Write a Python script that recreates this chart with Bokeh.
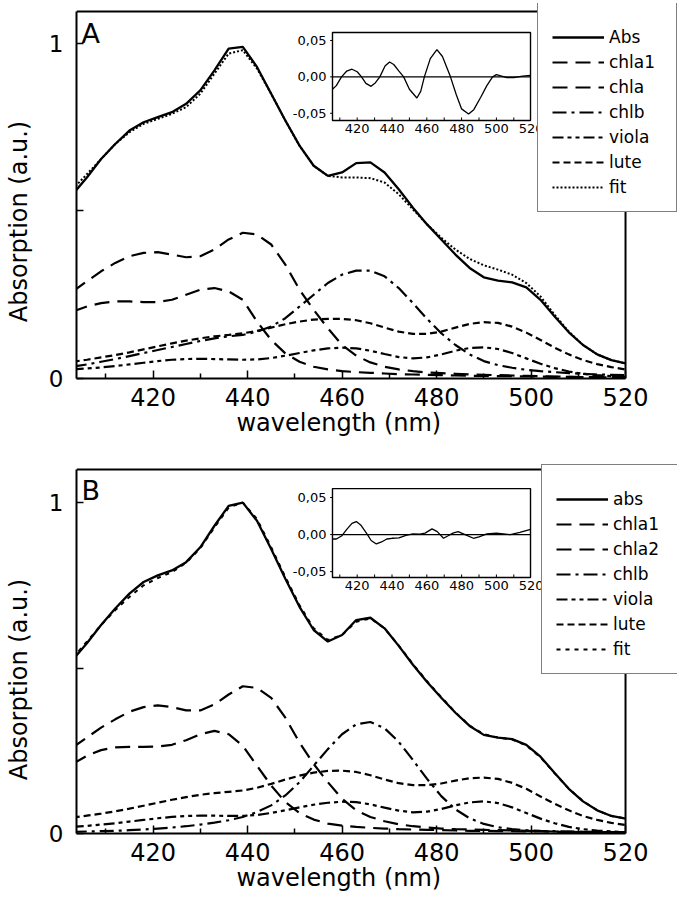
from bokeh.plotting import figure
from bokeh.models import Range1d, FixedTicker, Legend, LegendItem, NumeralTickFormatter, Span
from bokeh.layouts import column
from bokeh.embed import file_html
from bokeh.resources import INLINE
from bokeh.core.properties import value

# ---------------- data ----------------
WL = [403, 406, 409, 412, 415, 418, 421, 424, 427, 430, 433, 436, 439, 442, 445, 448,
      451, 454, 457, 460, 463, 466, 469, 472, 475, 478, 481, 484, 487, 490, 493, 496,
      499, 502, 505, 508, 511, 514, 517, 520]

# Panel A
A_abs = [0.55, 0.60, 0.655, 0.70, 0.74, 0.765, 0.78, 0.795, 0.82, 0.86, 0.92, 0.985,
         0.99, 0.93, 0.85, 0.77, 0.695, 0.635, 0.605, 0.615, 0.643, 0.645, 0.615, 0.565,
         0.51, 0.46, 0.415, 0.37, 0.33, 0.302, 0.292, 0.287, 0.272, 0.235, 0.185, 0.138,
         0.10, 0.072, 0.055, 0.045]
A_chla1 = [0.20, 0.215, 0.225, 0.23, 0.23, 0.228, 0.228, 0.235, 0.25, 0.265, 0.27, 0.26,
           0.235, 0.17, 0.115, 0.075, 0.05, 0.035, 0.027, 0.022, 0.019, 0.017, 0.015, 0.013,
           0.012, 0.011, 0.010, 0.009, 0.008, 0.008, 0.007, 0.007, 0.006, 0.006, 0.005, 0.005,
           0.004, 0.004, 0.004, 0.004]
A_chla = [0.26, 0.29, 0.32, 0.345, 0.365, 0.375, 0.377, 0.37, 0.362, 0.365, 0.385, 0.415,
          0.435, 0.43, 0.40, 0.34, 0.265, 0.205, 0.15, 0.10, 0.068, 0.048, 0.035, 0.027,
          0.022, 0.018, 0.016, 0.014, 0.012, 0.011, 0.010, 0.009, 0.008, 0.007, 0.006, 0.005,
          0.004, 0.004, 0.003, 0.003]
A_chlb = [0.035, 0.042, 0.05, 0.058, 0.067, 0.076, 0.085, 0.094, 0.103, 0.112, 0.12, 0.126,
          0.13, 0.14, 0.155, 0.18, 0.215, 0.25, 0.285, 0.31, 0.322, 0.322, 0.305, 0.27,
          0.225, 0.178, 0.135, 0.10, 0.072, 0.052, 0.04, 0.032, 0.026, 0.022, 0.019, 0.016,
          0.014, 0.012, 0.011, 0.010]
A_viola = [0.027, 0.03, 0.033, 0.037, 0.042, 0.047, 0.052, 0.056, 0.058, 0.059, 0.058, 0.057,
           0.056, 0.057, 0.061, 0.068, 0.076, 0.084, 0.09, 0.092, 0.09, 0.083, 0.073, 0.064,
           0.06, 0.063, 0.072, 0.083, 0.091, 0.093, 0.088, 0.076, 0.06, 0.044, 0.031, 0.021,
           0.014, 0.01, 0.007, 0.005]
A_lute = [0.05, 0.056, 0.063, 0.07, 0.078, 0.087, 0.096, 0.105, 0.113, 0.12, 0.126, 0.13,
          0.135, 0.142, 0.152, 0.162, 0.17, 0.176, 0.178, 0.178, 0.174, 0.165, 0.152, 0.14,
          0.133, 0.133, 0.14, 0.152, 0.163, 0.168, 0.166, 0.155, 0.137, 0.115, 0.092, 0.072,
          0.055, 0.043, 0.034, 0.027]
A_fit = [0.565, 0.61, 0.655, 0.70, 0.735, 0.76, 0.775, 0.79, 0.81, 0.85, 0.91, 0.97,
         0.98, 0.925, 0.85, 0.77, 0.695, 0.635, 0.605, 0.60, 0.60, 0.598, 0.585, 0.55,
         0.505, 0.46, 0.42, 0.385, 0.357, 0.338, 0.325, 0.31, 0.285, 0.245, 0.19, 0.14,
         0.10, 0.072, 0.055, 0.045]

# Panel B
B_abs = [0.525, 0.575, 0.63, 0.68, 0.725, 0.76, 0.78, 0.795, 0.82, 0.865, 0.93, 0.99,
         1.0, 0.945, 0.86, 0.77, 0.685, 0.615, 0.58, 0.60, 0.645, 0.652, 0.62, 0.567,
         0.51, 0.458, 0.41, 0.365, 0.325, 0.298, 0.29, 0.285, 0.268, 0.232, 0.183, 0.135,
         0.097, 0.07, 0.053, 0.045]
B_chla1 = [0.21, 0.235, 0.252, 0.26, 0.262, 0.262, 0.263, 0.268, 0.282, 0.30, 0.31, 0.30,
           0.265, 0.205, 0.145, 0.095, 0.062, 0.042, 0.03, 0.024, 0.02, 0.017, 0.015, 0.013,
           0.012, 0.011, 0.010, 0.009, 0.008, 0.008, 0.007, 0.007, 0.006, 0.006, 0.005, 0.005,
           0.005, 0.004, 0.004, 0.004]
B_chla2 = [0.26, 0.29, 0.32, 0.345, 0.368, 0.382, 0.387, 0.382, 0.372, 0.372, 0.39, 0.42,
           0.445, 0.44, 0.41, 0.35, 0.275, 0.21, 0.155, 0.105, 0.07, 0.05, 0.037, 0.028,
           0.022, 0.018, 0.015, 0.013, 0.012, 0.011, 0.010, 0.009, 0.008, 0.007, 0.006, 0.005,
           0.004, 0.004, 0.003, 0.003]
B_chlb = [0.005, 0.006, 0.007, 0.008, 0.010, 0.012, 0.015, 0.018, 0.022, 0.027, 0.033, 0.04,
          0.05, 0.065, 0.085, 0.115, 0.155, 0.205, 0.255, 0.30, 0.33, 0.337, 0.318, 0.277,
          0.222, 0.165, 0.113, 0.073, 0.046, 0.029, 0.019, 0.013, 0.010, 0.008, 0.007, 0.006,
          0.005, 0.005, 0.004, 0.004]
B_viola = [0.02, 0.023, 0.027, 0.031, 0.036, 0.041, 0.046, 0.05, 0.053, 0.054, 0.054, 0.053,
           0.053, 0.056, 0.062, 0.07, 0.079, 0.087, 0.093, 0.096, 0.095, 0.088, 0.078, 0.069,
           0.064, 0.066, 0.074, 0.085, 0.094, 0.097, 0.092, 0.079, 0.062, 0.045, 0.031, 0.02,
           0.013, 0.009, 0.006, 0.004]
B_lute = [0.048, 0.054, 0.06, 0.067, 0.075, 0.084, 0.093, 0.102, 0.11, 0.117, 0.122, 0.126,
          0.13, 0.138, 0.15, 0.163, 0.175, 0.184, 0.189, 0.19, 0.186, 0.176, 0.163, 0.152,
          0.146, 0.146, 0.151, 0.16, 0.167, 0.169, 0.165, 0.153, 0.135, 0.112, 0.09, 0.07,
          0.053, 0.041, 0.032, 0.026]
B_fit = [0.53, 0.58, 0.63, 0.675, 0.715, 0.75, 0.772, 0.79, 0.818, 0.862, 0.925, 0.985,
         1.0, 0.95, 0.865, 0.775, 0.69, 0.62, 0.585, 0.60, 0.64, 0.65, 0.62, 0.568,
         0.512, 0.46, 0.412, 0.366, 0.326, 0.30, 0.29, 0.284, 0.266, 0.23, 0.182, 0.135,
         0.098, 0.07, 0.053, 0.045]

# Insets (residuals)
INSA_X = [405.8, 408, 411, 414, 417, 420, 422.5, 425, 428, 430.5, 433, 436, 438.6, 441, 444,
          446.7, 450, 454.3, 456.5, 458.6, 462, 465.8, 469, 473.6, 477, 480, 484, 487, 491,
          494.5, 497.8, 500, 503, 506, 510, 515, 519.6]
INSA_Y = [-0.017, -0.012, 0.0, 0.008, 0.0105, 0.007, 0.0, -0.009, -0.013, -0.008, 0.0, 0.015,
          0.0205, 0.017, 0.008, 0.0, -0.017, -0.029, -0.02, 0.0, 0.025, 0.0375, 0.028, 0.0,
          -0.025, -0.044, -0.051, -0.045, -0.028, -0.012, 0.0, 0.003, 0.001, -0.001, -0.001,
          0.001, 0.002]
INSB_X = [405.8, 408, 411, 414, 417, 419.5, 422, 425.9, 428, 431, 434, 437, 440, 444, 448,
          452, 456, 459, 463, 466, 469.6, 472, 475, 478, 482, 486.8, 490, 494.5, 500, 504,
          508, 513.5, 519.6]
INSB_Y = [-0.006, -0.006, -0.002, 0.007, 0.015, 0.0175, 0.013, 0.0, -0.008, -0.0127, -0.01,
          -0.006, -0.005, -0.0045, -0.001, 0.001, 0.0005, 0.002, 0.0076, 0.004, -0.005, -0.002,
          0.002, 0.004, 0.0, -0.005, -0.003, 0.001, 0.002, 0.001, 0.0, 0.003, 0.007]

X_TICKS = [420, 440, 460, 480, 500, 520]
X_MINOR = [410, 430, 450, 470, 490, 510]
Y_TICKS = [0, 1]
Y_MINOR = [0.5]
INS_X_TICKS = [420, 440, 460, 480, 500, 520]
INS_X_MINOR = [410, 420, 430, 440, 450, 460, 470, 480, 490, 500, 510]
INS_Y_TICKS = [0.05, 0.0, -0.05]
INS_Y_LABELS = ["0,05", "0,00", "-0,05"]

LABELS_A = ["Abs", "chla1", "chla", "chlb", "viola", "lute", "fit"]
LABELS_B = ["abs", "chla1", "chla2", "chlb", "viola", "lute", "fit"]

# ---------------- styling / layout ----------------
FONT = "DejaVu Sans"
X_LO, X_HI, X_VIEW = 403.8, 520.0, 531.0      # axis box ends at X_HI; view extends under legend
INS_X_RANGE = (405.8, 519.6)
INS_X_TARGET = (457.98, 499.89)
W = 677
NBSP = "\u00a0"
STYLES = [
    dict(line_dash="solid", line_width=2.3),
    dict(line_dash="15 8", line_width=2.2),
    dict(line_dash="15 8", line_width=2.2),
    dict(line_dash="14 5 3 5", line_width=2.2),
    dict(line_dash="11 4 4 4 4 4", line_width=2.2),
    dict(line_dash="7 4", line_width=2.2),
]


def make_panel(series, labels, letter, fit_dash, y_hi, y_view, height, b_top, b_bottom,
               ins_x, ins_y, ins_yrange, ins_ytarget, leg_loc):
    p = figure(width=W, height=height, x_range=Range1d(X_LO, X_VIEW),
               y_range=Range1d(0, y_view),
               output_backend="svg", toolbar_location=None,
               min_border_left=76, min_border_right=0,
               min_border_top=b_top, min_border_bottom=b_bottom)
    p.xgrid.visible = False
    p.ygrid.visible = False
    p.outline_line_color = None
    p.background_fill_color = "white"
    p.border_fill_color = "white"

    for ax in (p.xaxis[0], p.yaxis[0]):
        ax.axis_line_width = 2
        ax.major_tick_line_width = 1.5
        ax.minor_tick_line_width = 1.5
        ax.major_tick_out = 0
        ax.minor_tick_out = 0
        ax.major_label_text_font = FONT
        ax.major_label_text_color = "black"
        ax.axis_label_text_font = FONT
        ax.axis_label_text_font_size = "24px"
        ax.axis_label_text_font_style = "normal"
        ax.axis_label_text_color = "black"
    p.xaxis.bounds = (X_LO, X_HI)
    p.xaxis.ticker = FixedTicker(ticks=X_TICKS, minor_ticks=X_MINOR)
    p.xaxis.major_label_text_font_size = "24px"
    p.xaxis.major_tick_in = 8
    p.xaxis.minor_tick_in = 5
    p.xaxis.major_label_standoff = 9
    p.xaxis.axis_label = "wavelength (nm)" + NBSP * 10
    p.xaxis.axis_label_standoff = 0
    p.yaxis.bounds = (0, y_hi)
    p.yaxis.ticker = FixedTicker(ticks=Y_TICKS, minor_ticks=Y_MINOR)
    p.yaxis.formatter = NumeralTickFormatter(format="0")
    p.yaxis.major_label_text_font_size = "23px"
    p.yaxis.major_tick_in = 7
    p.yaxis.minor_tick_in = 7
    p.yaxis.major_label_standoff = 13
    p.yaxis.axis_label = "Absorption (a.u.)" + NBSP * 8
    p.yaxis.axis_label_standoff = 13

    # top and right sides of the box
    p.add_layout(Span(location=X_HI, dimension="height", line_color="black", line_width=2))
    p.add_layout(Span(location=y_hi, dimension="width", line_color="black", line_width=2))

    renderers = []
    for ys, st in zip(series[:-1], STYLES):
        r = p.line(WL, ys, line_color="black", line_cap="butt", **st)
        renderers.append(r)
    r = p.line(WL, series[-1], line_color="black", line_dash=fit_dash, line_width=2)
    renderers.append(r)

    # panel letter
    p.text(x=[X_LO], y=[y_hi], text=[letter], x_offset=5, y_offset=6,
           text_baseline="top", text_align="left", text_font=value(FONT),
           text_font_size="27px", text_color="black")

    # inset
    xs = Range1d(*INS_X_RANGE)
    ysr = Range1d(*ins_yrange)
    sub = p.subplot(x_source=xs, y_source=ysr,
                    x_target=Range1d(*INS_X_TARGET), y_target=Range1d(*ins_ytarget))
    sub.quad(left=[xs.start], right=[xs.end], bottom=[ysr.start], top=[ysr.end],
             fill_color="white", line_color="black", line_width=1.4)
    sub.segment(x0=[xs.start], x1=[xs.end], y0=[0], y1=[0], line_color="black", line_width=1.2)
    sub.line(ins_x, ins_y, line_color="black", line_width=1.3)
    tl = 0.035 * (ysr.end - ysr.start)
    n = len(INS_X_MINOR)
    sub.segment(x0=INS_X_MINOR, x1=INS_X_MINOR, y0=[ysr.start] * n, y1=[ysr.start + tl] * n,
                line_color="black", line_width=1)
    sub.text(x=INS_X_TICKS, y=[ysr.start] * len(INS_X_TICKS), text=[str(t) for t in INS_X_TICKS],
             text_align="center", text_baseline="top", y_offset=3,
             text_font=value(FONT), text_font_size="13px", text_color="black")
    tx = 0.012 * (xs.end - xs.start)
    m = len(INS_Y_TICKS)
    sub.segment(x0=[xs.start - tx] * m, x1=[xs.start] * m, y0=INS_Y_TICKS, y1=INS_Y_TICKS,
                line_color="black", line_width=1)
    sub.text(x=[xs.start] * m, y=INS_Y_TICKS, text=INS_Y_LABELS, text_align="right",
             text_baseline="middle", x_offset=-6, text_font=value(FONT),
             text_font_size="13px", text_color="black")

    # legend
    items = [LegendItem(label=lab, renderers=[r]) for lab, r in zip(labels, renderers)]
    leg = Legend(items=items, location=leg_loc)
    leg.title = " "
    leg.title_text_font_size = "9px"
    leg.title_standoff = 0
    leg.label_text_font = FONT
    leg.label_text_font_size = "17px"
    leg.label_text_color = "black"
    leg.glyph_width = 52
    leg.glyph_height = 20
    leg.label_height = 20
    leg.label_width = 53
    leg.label_standoff = 5
    leg.spacing = 5
    leg.padding = 14
    leg.margin = 0
    leg.border_line_color = "black"
    leg.border_line_width = 1.5
    leg.background_fill_color = "white"
    leg.background_fill_alpha = 1
    p.add_layout(leg)
    return p


pA = make_panel([A_abs, A_chla1, A_chla, A_chlb, A_viola, A_lute, A_fit], LABELS_A, "A", "2 2",
                1.0955, 1.1194, 460, 3, 82, INSA_X, INSA_Y, (-0.060, 0.061), (0.770, 1.033),
                (461, 166))
pB = make_panel([B_abs, B_chla1, B_chla2, B_chlb, B_viola, B_lute, B_fit], LABELS_B, "B", "4 5",
                1.10, 1.1151, 439, 4, 66, INSB_X, INSB_Y, (-0.058, 0.062), (0.7734, 1.0423),
                (465, 159))

layout = column(pA, pB, spacing=0)
open("out.html", "w").write(file_html(layout, INLINE))
